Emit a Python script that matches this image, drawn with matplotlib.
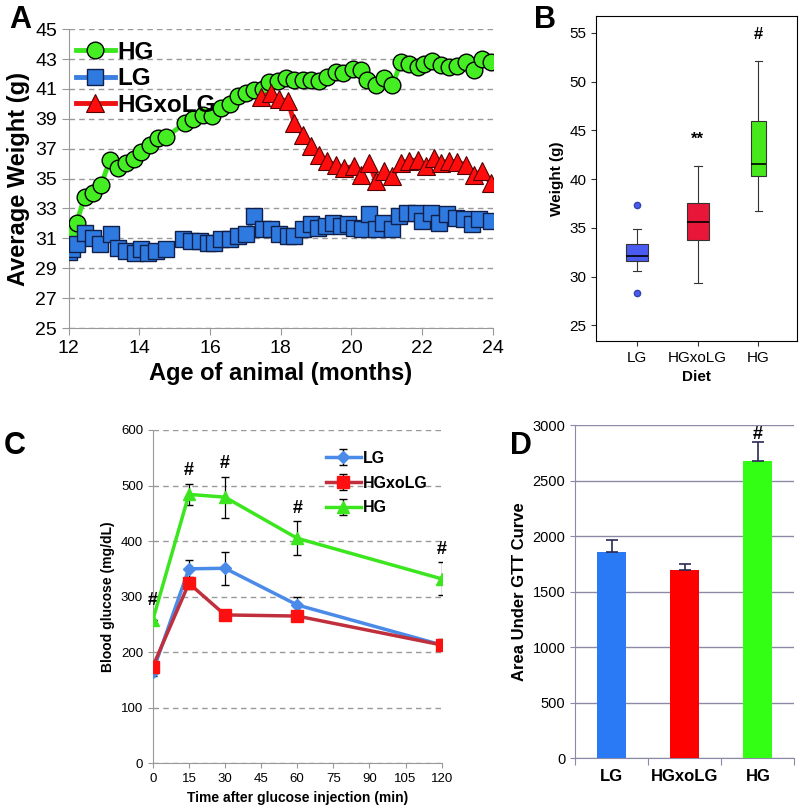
import matplotlib
matplotlib.use('Agg')
import matplotlib.pyplot as plt
import numpy as np

plt.rcParams['font.family'] = ['Liberation Sans', 'DejaVu Sans']

# ---- panel A: average weight vs age ----
hg_age = [12.0, 12.08, 12.22, 12.45, 12.69, 12.92, 13.16, 13.39, 13.63, 13.85, 14.05, 14.29,
          14.52, 14.76, 15.28, 15.51, 15.79, 16.05, 16.3, 16.55, 16.8, 17.02, 17.25, 17.49,
          17.68, 17.91, 18.15, 18.38, 18.62, 18.86, 19.09, 19.32, 19.56, 19.75, 20.03, 20.27,
          20.45, 20.69, 20.93, 21.16, 21.40, 21.63, 21.87, 22.06, 22.29, 22.53, 22.76, 23.0,
          23.23, 23.47, 23.70, 23.94]
hg_wt = [30.8, 31.6, 32.05, 33.8, 34.05, 34.6, 36.25, 35.7, 36.05, 36.3, 36.8, 37.25,
         37.7, 37.8, 38.7, 39.0, 39.25, 39.2, 39.7, 40.0, 40.55, 40.7, 40.9, 41.0,
         41.45, 41.5, 41.7, 41.6, 41.6, 41.6, 41.55, 41.8, 42.15, 42.05, 42.35, 42.3,
         41.6, 41.25, 41.7, 41.25, 42.8, 42.65, 42.5, 42.65, 42.9, 42.6, 42.5, 42.55,
         42.8, 42.25, 43.0, 42.8]

lg_age = [12.0, 12.08, 12.22, 12.45, 12.69, 12.88, 13.2, 13.39, 13.63, 13.86, 14.05, 14.24,
          14.48, 14.76, 15.23, 15.46, 15.7, 15.94, 16.12, 16.31, 16.55, 16.79, 17.02, 17.25,
          17.49, 17.73, 17.96, 18.2, 18.38, 18.62, 18.86, 19.04, 19.28, 19.47, 19.7, 19.89,
          20.08, 20.31, 20.5, 20.69, 20.88, 21.16, 21.35, 21.58, 21.82, 22.0, 22.24, 22.48,
          22.71, 22.95, 23.19, 23.42, 23.61, 23.94]
lg_wt = [30.1, 30.27, 30.6, 31.38, 31.05, 30.6, 31.27, 30.38, 30.15, 30.05, 30.27, 30.05,
         30.15, 30.27, 30.98, 30.82, 30.82, 30.71, 30.71, 30.93, 30.93, 31.15, 31.3, 32.49,
         31.6, 31.6, 31.27, 31.16, 31.16, 31.6, 31.93, 31.71, 31.82, 32.05, 31.82, 31.93,
         31.71, 31.6, 32.6, 31.6, 32.05, 31.6, 32.49, 32.71, 32.71, 32.16, 32.71, 32.05,
         32.6, 32.38, 32.27, 31.93, 32.27, 32.16]

xo_age = [17.44, 17.73, 17.96, 18.2, 18.38, 18.62, 18.86, 19.09, 19.32, 19.56, 19.8, 20.08,
          20.27, 20.5, 20.69, 20.93, 21.16, 21.4, 21.63, 21.87, 22.1, 22.34, 22.53, 22.76,
          23.0, 23.23, 23.47, 23.7, 23.94]
xo_wt = [40.49, 40.7, 40.3, 40.2, 38.75, 37.95, 37.16, 36.6, 36.16, 35.9, 35.7, 35.82,
         35.27, 36.05, 34.82, 35.49, 35.16, 36.05, 36.16, 36.27, 35.82, 36.38, 36.05, 36.16,
         36.1, 35.93, 35.27, 35.49, 34.71]

# ---- panel B: final weight box plot ----
diets = ['LG', 'HGxoLG', 'HG']
box_stats = [
    dict(med=32.14, q1=31.56, q3=33.38, whislo=30.6, whishi=34.88, fliers=[37.31, 28.28]),
    dict(med=35.56, q1=33.72, q3=37.59, whislo=29.38, whishi=41.31, fliers=[]),
    dict(med=41.52, q1=40.32, q3=45.97, whislo=36.69, whishi=52.1, fliers=[]),
]
box_sig = ['', '**', '#']

# ---- panel C: glucose tolerance test ----
gtt_time = [0, 15, 30, 60, 120]
gtt_lg = [165, 350, 351, 285, 213]
gtt_lg_err = [8, 15, 30, 15, 8]
gtt_xo = [174, 324, 267, 265, 213]
gtt_xo_err = [8, 10, 8, 8, 10]
gtt_hg = [258, 484, 479, 405, 332]
gtt_hg_err = [0, 19, 37, 31, 30]

# ---- panel D: area under GTT curve ----
auc = [1857, 1695, 2676]
auc_err = [110, 55, 168]

fig = plt.figure(figsize=(8, 8.1), dpi=100)

# A
axA = fig.add_axes([0.086, 0.595, 0.53, 0.369])
axA.plot(hg_age, hg_wt, '-o', color='#3ce61e', lw=3.5, ms=12, mfc='#44ee22', mec='black', mew=1.0, label='HG', zorder=3)
axA.plot(lg_age, lg_wt, '-s', color='#3a80e0', lw=3.5, ms=12, mfc='#2f7ae0', mec='#10204a', mew=1.0, label='LG', zorder=4)
axA.plot(xo_age, xo_wt, '-^', color='#ee1111', lw=3.5, ms=12.5, mfc='#ff0d0d', mec='#550000', mew=0.8, label='HGxoLG', zorder=5)
axA.set_xlim(12, 24)
axA.set_ylim(25, 45)
axA.set_xticks(range(12, 25, 2))
axA.set_yticks(range(25, 46, 2))
axA.tick_params(labelsize=14, color='#999999', length=5)
axA.grid(axis='y', ls='--', color='#999999', lw=1.0, dashes=(4, 3))
axA.set_axisbelow(True)
for s in ['top', 'right']:
    axA.spines[s].set_visible(False)
for s in ['left', 'bottom']:
    axA.spines[s].set_color('#999999')
axA.set_ylabel('Average Weight (g)', fontsize=17, fontweight='bold', labelpad=4)
axA.set_xlabel('Age of animal (months)', fontsize=17, fontweight='bold', labelpad=4)
axA.legend(loc='upper left', bbox_to_anchor=(-0.035, 1.035), frameon=False, handlelength=1.6,
           handletextpad=0.1, labelspacing=0.15, prop={'size': 17.5, 'weight': 'bold'})
fig.text(0.012, 0.965, 'A', fontsize=22, fontweight='bold')

# B
axB = fig.add_axes([0.745, 0.579, 0.251, 0.401])
widths = [0.36, 0.36, 0.25]
colors_b = ['#4a5cf0', '#e8173a', '#46e81c']
for i, st in enumerate(box_stats):
    axB.bxp([st], positions=[i + 1], widths=widths[i], patch_artist=True,
            showfliers=True,
            boxprops=dict(facecolor=colors_b[i], edgecolor='#333333', lw=0.8),
            medianprops=dict(color='black', lw=1.2),
            whiskerprops=dict(color='#333333', lw=0.8),
            capprops=dict(color='#333333', lw=0.8),
            capwidths=0.13,
            flierprops=dict(marker='o', mfc='#4a5cf0', mec='#3344aa', ms=4.5))
    if box_sig[i]:
        axB.text(i + 1, st['whishi'] + 2.0, box_sig[i], ha='center', va='bottom', fontsize=12, fontweight='bold')
axB.set_xlim(0.33, 3.63)
axB.set_ylim(23.4, 56.7)
axB.set_yticks(range(25, 56, 5))
axB.set_xticks([1, 2, 3])
axB.set_xticklabels(diets)
axB.tick_params(labelsize=11, color='#333333')
axB.set_ylabel('Weight (g)', fontsize=11, fontweight='bold')
axB.set_xlabel('Diet', fontsize=11, fontweight='bold')
fig.text(0.668, 0.965, 'B', fontsize=22, fontweight='bold')

# C
axC = fig.add_axes([0.191, 0.0577, 0.361, 0.4115])
axC.errorbar(gtt_time, gtt_lg, yerr=gtt_lg_err, color='#4a8ae8', marker='D', ms=6, lw=2.5,
             ecolor='black', elinewidth=0.9, capsize=3, label='LG', zorder=3)
axC.errorbar(gtt_time, gtt_xo, yerr=gtt_xo_err, color='#c0303c', marker='s', ms=9, mfc='#ff1010', mec='#ff1010', lw=2.5,
             ecolor='black', elinewidth=0.9, capsize=3, label='HGxoLG', zorder=4)
axC.errorbar(gtt_time, gtt_hg, yerr=gtt_hg_err, color='#3ce61e', marker='^', ms=8, lw=2.5,
             ecolor='black', elinewidth=0.9, capsize=3, label='HG', zorder=5)
for t, v, e in zip(gtt_time, gtt_hg, gtt_hg_err):
    if t == 0:
        axC.text(0, 293, '#', ha='center', va='center', fontsize=13, fontweight='bold', clip_on=False)
    else:
        axC.text(t, v + e + 8, '#', ha='center', va='bottom', fontsize=13, fontweight='bold')
axC.set_xlim(0, 120)
axC.set_ylim(0, 600)
axC.set_xticks(range(0, 121, 15))
axC.set_yticks(range(0, 601, 100))
axC.tick_params(labelsize=9.5, color='#999999')
axC.grid(axis='y', ls='--', color='#999999', lw=1.0, dashes=(4, 3))
axC.set_axisbelow(True)
for s in ['top', 'right']:
    axC.spines[s].set_visible(False)
for s in ['left', 'bottom']:
    axC.spines[s].set_color('#999999')
axC.set_ylabel('Blood glucose (mg/dL)', fontsize=10, fontweight='bold')
axC.set_xlabel('Time after glucose injection (min)', fontsize=10, fontweight='bold')
axC.legend(loc='upper right', bbox_to_anchor=(1.0, 0.98), frameon=False, handlelength=2.2,
           handletextpad=0.1, labelspacing=0.6, prop={'size': 11.5, 'weight': 'bold'})
fig.text(0.005, 0.44, 'C', fontsize=22, fontweight='bold')

# D
axD = fig.add_axes([0.719, 0.0638, 0.274, 0.4115])
xpos = [0.5, 1.5, 2.5]
axD.bar(xpos, auc, width=0.4, color=['#2a79f5', '#ff0000', '#33ff14'], zorder=3)
axD.errorbar(xpos, auc, yerr=[[0, 0, 0], auc_err], fmt='none', ecolor='#2a2a55', elinewidth=1.2, capsize=4, capthick=1.2, zorder=4)
axD.text(2.5, auc[2] + auc_err[2] - 10, '#', ha='center', va='bottom', fontsize=13, fontweight='bold')
axD.set_xlim(0, 3)
axD.set_ylim(0, 3000)
axD.set_yticks(range(0, 3001, 500))
axD.set_xticks([0, 1, 2, 3])
axD.set_xticklabels([])
axD.set_xticks(xpos, minor=True)
axD.set_xticklabels(diets, minor=True, fontsize=12, fontweight='bold')
axD.tick_params(axis='x', which='minor', length=0, pad=8)
axD.tick_params(axis='x', which='major', length=5, color='#8a8aa8')
axD.tick_params(axis='y', labelsize=10.5, color='#8a8aa8')
axD.grid(axis='y', color='#8a8aa8', lw=1.0)
axD.set_axisbelow(True)
for s in ['top', 'right']:
    axD.spines[s].set_visible(False)
for s in ['left', 'bottom']:
    axD.spines[s].set_color('#8a8aa8')
axD.set_ylabel('Area Under GTT Curve', fontsize=12, fontweight='bold')
fig.text(0.638, 0.44, 'D', fontsize=22, fontweight='bold')

fig.savefig('out.png', dpi=100)
